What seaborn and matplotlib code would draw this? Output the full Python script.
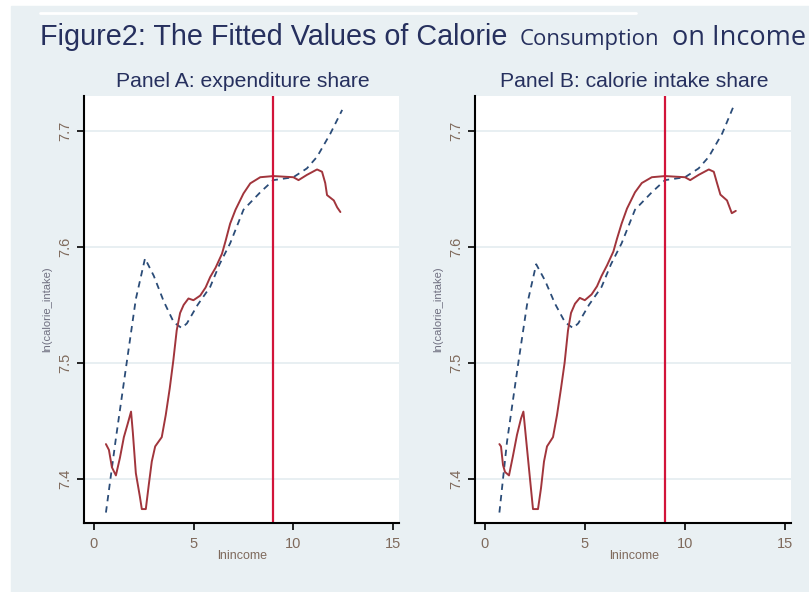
import numpy as np
import pandas as pd
import matplotlib
matplotlib.use("Agg")
import matplotlib.pyplot as plt
import seaborn as sns

# -----------------------------
# Data
# -----------------------------

# Panel A: expenditure share
a_red_x = [0.6, 0.75, 0.9, 1.1, 1.3, 1.5, 1.7, 1.86, 1.95, 2.1, 2.3, 2.4, 2.6, 2.75,
           2.9, 3.07, 3.4, 3.6, 3.8, 3.98, 4.15, 4.32, 4.5, 4.74, 4.99, 5.33, 5.6,
           5.83, 6.1, 6.42, 6.6, 6.83, 7.1, 7.5, 7.84, 8.34, 9.0, 10.0, 10.26, 10.68,
           11.19, 11.44, 11.6, 11.69, 12.03, 12.2, 12.36]
a_red_y = [7.430, 7.425, 7.410, 7.403, 7.418, 7.436, 7.448, 7.458, 7.440, 7.405, 7.385,
           7.374, 7.374, 7.395, 7.415, 7.428, 7.436, 7.455, 7.478, 7.502, 7.528, 7.543,
           7.550, 7.5555, 7.554, 7.558, 7.565, 7.574, 7.582, 7.594, 7.605, 7.620, 7.632,
           7.646, 7.6547, 7.660, 7.661, 7.660, 7.6575, 7.662, 7.6667, 7.6647, 7.655,
           7.6446, 7.640, 7.634, 7.630]
a_blue_x = [0.6, 1.1, 1.64, 2.1, 2.56, 3.0, 3.5, 4.0, 4.4, 4.66, 5.2, 5.83, 6.3, 6.83,
            7.5, 8.34, 9.0, 10.0, 10.68, 11.19, 11.86, 12.45]
a_blue_y = [7.371, 7.435, 7.500, 7.555, 7.590, 7.575, 7.553, 7.535, 7.530, 7.534, 7.550,
            7.5655, 7.585, 7.603, 7.632, 7.647, 7.6575, 7.660, 7.6676, 7.6776, 7.6977,
            7.718]

# Panel B: calorie intake share
b_red_x = [0.72, 0.8, 0.9, 1.0, 1.2, 1.4, 1.6, 1.8, 1.92, 2.05, 2.25, 2.4, 2.65, 2.8,
           2.95, 3.1, 3.4, 3.6, 3.8, 3.98, 4.15, 4.3, 4.5, 4.74, 4.99, 5.33, 5.6, 5.83,
           6.1, 6.42, 6.6, 6.83, 7.1, 7.5, 7.84, 8.34, 9.0, 10.0, 10.26, 10.68, 11.19,
           11.44, 11.6, 11.77, 12.1, 12.34, 12.54]
b_red_y = [7.430, 7.428, 7.412, 7.406, 7.403, 7.420, 7.438, 7.452, 7.458, 7.435, 7.400,
           7.374, 7.374, 7.392, 7.415, 7.428, 7.436, 7.455, 7.478, 7.500, 7.528, 7.543,
           7.551, 7.556, 7.554, 7.559, 7.566, 7.575, 7.584, 7.596, 7.607, 7.620, 7.633,
           7.647, 7.655, 7.660, 7.661, 7.660, 7.6575, 7.662, 7.6667, 7.6647, 7.655,
           7.645, 7.640, 7.629, 7.631]
b_blue_x = [0.72, 1.1, 1.64, 2.1, 2.56, 3.0, 3.5, 4.0, 4.4, 4.66, 5.2, 5.83, 6.3, 6.83,
            7.5, 8.34, 9.0, 10.0, 10.68, 11.19, 11.86, 12.4]
b_blue_y = [7.371, 7.432, 7.497, 7.550, 7.585, 7.571, 7.551, 7.535, 7.530, 7.534, 7.550,
            7.5655, 7.585, 7.603, 7.632, 7.647, 7.6575, 7.660, 7.6676, 7.6776, 7.6977,
            7.720]

cutoff = 9
x_ticks = [0, 5, 10, 15]
y_ticks = [7.4, 7.5, 7.6, 7.7]
panel_titles = ["Panel A: expenditure share", "Panel B: calorie intake share"]

# -----------------------------
# Style
# -----------------------------

sns.set_theme(style="white")
plt.rcParams["font.family"] = ["Liberation Sans", "DejaVu Sans"]

bg = "#e9f0f3"
navy = "#26305e"
tick_col = "#7f6a5c"
red = "#a1353c"
blue = "#2b4c78"

fig = plt.figure(figsize=(8.09, 5.92), dpi=100, facecolor="white")
# light panel behind everything (white strip on left and top)
fig.patches.append(plt.Rectangle((11 / 809, 0), 1, 1 - 6 / 592,
                                 transform=fig.transFigure, color=bg, zorder=-10))
fig.lines.append(plt.Line2D([40 / 809, 636 / 809], [1 - 13 / 592, 1 - 13 / 592],
                            transform=fig.transFigure, color="white", lw=2,
                            zorder=-5))

panels = [
    (84, 315, a_red_x, a_red_y, a_blue_x, a_blue_y),
    (475, 316, b_red_x, b_red_y, b_blue_x, b_blue_y),
]

for (left, width, rx, ry, bx, by), title in zip(panels, panel_titles):
    ax = fig.add_axes([left / 809, 1 - 523 / 592, width / 809, 427 / 592])
    ax.set_facecolor("white")

    for yt in y_ticks:
        ax.axhline(yt, color="#e4ecf0", lw=1.2, zorder=0)

    sns.lineplot(x=bx, y=by, ax=ax, color=blue, lw=1.3, sort=False,
                 estimator=None, linestyle=(0, (3.5, 2.8)))
    sns.lineplot(x=rx, y=ry, ax=ax, color=red, lw=1.4, sort=False,
                 estimator=None)
    ax.axvline(cutoff, color="#d2143a", lw=1.6)

    ax.set_xlim(-0.5, 15.3)
    ax.set_ylim(7.362, 7.73)
    ax.set_xticks(x_ticks)
    ax.set_yticks(y_ticks)
    ax.set_yticklabels([str(v) for v in y_ticks], rotation=90, va="center")

    for side in ["top", "right"]:
        ax.spines[side].set_visible(False)
    for side in ["left", "bottom"]:
        ax.spines[side].set_color("black")
        ax.spines[side].set_linewidth(1.5)

    ax.tick_params(axis="both", direction="out", length=5, width=1.2,
                   color="black", labelcolor=tick_col, labelsize=10.5, pad=5,
                   left=True, bottom=True)
    ax.tick_params(axis="y", pad=3.5)

    ax.set_xlabel("lnincome", color=tick_col, fontsize=9)
    ax.xaxis.set_label_coords(0.503, -0.064)
    ax.set_ylabel("ln(calorie_intake)", color="#6f6f80", fontsize=8)
    ax.yaxis.set_label_coords(-0.100, 0.5)

    ax.text(0.505, 1.035, title, transform=ax.transAxes, ha="center",
            va="center", fontsize=15.2, color=navy)

# -----------------------------
# Main title (mixed fonts)
# -----------------------------

base_y = 1 - 45 / 592
fig.text(40 / 809, base_y, "Figure2: The Fitted Values of Calorie",
         fontsize=20.7, color=navy, va="baseline", ha="left")
fig.text(520 / 809, base_y, "Consumption", fontsize=15.9, color=navy,
         va="baseline", ha="left", family=["Open Sans", "DejaVu Sans"])
fig.text(672 / 809, base_y, "on Income", fontsize=19.5, color=navy,
         va="baseline", ha="left", family=["Open Sans", "DejaVu Sans"])

plt.savefig("out.png", dpi=100, facecolor="white")
